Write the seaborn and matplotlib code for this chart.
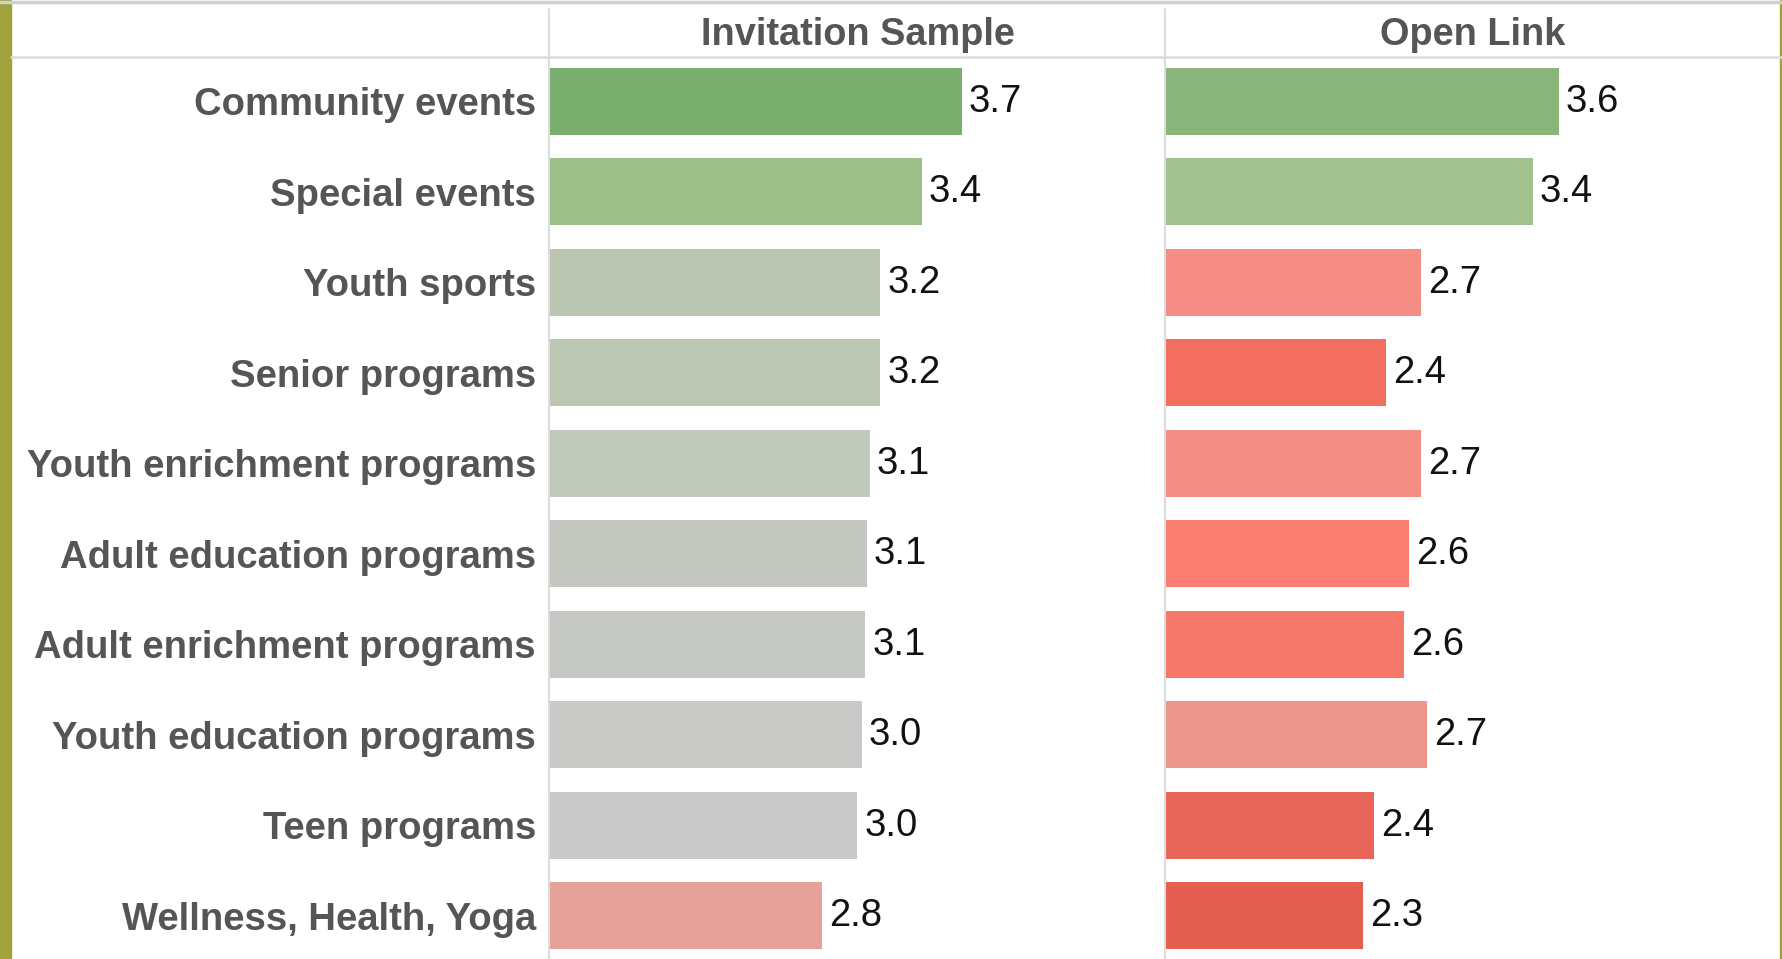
# ---------------------------------------------------------------------------------------------------------------------------
# Import Required Modules
# ---------------------------------------------------------------------------------------------------------------------------

import matplotlib
matplotlib.use("Agg")

import matplotlib.pyplot as plt

import seaborn as sns


# ---------------------------------------------------------------------------------------------------------------------------
# Data
# ---------------------------------------------------------------------------------------------------------------------------

programs = [
    "Community events",
    "Special events",
    "Youth sports",
    "Senior programs",
    "Youth enrichment programs",
    "Adult education programs",
    "Adult enrichment programs",
    "Youth education programs",
    "Teen programs",
    "Wellness, Health, Yoga",
]

invitation_scores = [3.69, 3.43, 3.16, 3.16, 3.09, 3.07, 3.06, 3.04, 3.01, 2.78]

open_link_scores = [3.57, 3.40, 2.67, 2.44, 2.67, 2.59, 2.56, 2.71, 2.36, 2.29]

panel_titles = ["Invitation Sample", "Open Link"]


# bar colours

invitation_colors = ["#7aae6e", "#9cc08a", "#bac6b2", "#bbc7b3", "#c1c9bd",
                     "#c4c8c0", "#c6c8c3", "#c9cac7", "#cacaca", "#e6a29a"]

open_link_colors = ["#8ab57a", "#a1c28f", "#f58d84", "#f26f60", "#f48d83",
                    "#f97d70", "#f6786b", "#ec958a", "#e8655a", "#e45e4f"]


# ---------------------------------------------------------------------------------------------------------------------------
# Figure setup
# ---------------------------------------------------------------------------------------------------------------------------

sns.set_style("white")

plt.rcParams["font.family"] = ["Liberation Sans", "DejaVu Sans"]

W, H = 1783, 959

fig = plt.figure(figsize=(W / 100, H / 100), dpi=100)

top = 1 - 57 / H

ax_left = fig.add_axes([550 / W, 0, 615 / W, top])
ax_right = fig.add_axes([1166 / W, 0, 614 / W, top])


# ---------------------------------------------------------------------------------------------------------------------------
# Function: [ Draw one panel ]
# ---------------------------------------------------------------------------------------------------------------------------

def draw_panel(ax, scores, colors, title, show_labels):

    sns.barplot(x=scores, y=programs, hue=programs, palette=colors,
                orient="h", width=0.74, saturation=1, legend=False, ax=ax,
                edgecolor="none")

    ax.set_xlim(1, 5.02)
    ax.set_ylim(len(programs) - 0.52, -0.49)

    for i, v in enumerate(scores):

        ax.annotate(f"{v:.1f}", xy=(v, i), xytext=(5, -0.5), textcoords="offset points",
                    ha="left", va="center", fontsize=27.5, color="#111111")

    ax.set_xticks([])
    ax.set_xlabel("")
    ax.set_ylabel("")

    if show_labels:
        ax.tick_params(axis="y", length=0, pad=10)
        for lbl in ax.get_yticklabels():
            lbl.set_fontsize(27.5)
            lbl.set_fontweight("bold")
            lbl.set_color("#555555")
    else:
        ax.set_yticks([])

    for s in ax.spines.values():
        s.set_visible(False)

    ax.text(0.5, 1.024, title, transform=ax.transAxes, ha="center", va="center",
            fontsize=27.3, fontweight="bold", color="#555555")


draw_panel(ax_left, invitation_scores, invitation_colors, panel_titles[0], True)
draw_panel(ax_right, open_link_scores, open_link_colors, panel_titles[1], False)


# ---------------------------------------------------------------------------------------------------------------------------
# Frame: dividers, header rule, olive edges
# ---------------------------------------------------------------------------------------------------------------------------

grid_col = "#dcdcdc"

fig.add_artist(plt.Line2D([0, 1], [1 - 1.5 / H, 1 - 1.5 / H], color="#d0d0d0", lw=2.5))
fig.add_artist(plt.Line2D([11 / W, 1], [top, top], color=grid_col, lw=1.8))

for xpix in (549, 1165):
    fig.add_artist(plt.Line2D([xpix / W, xpix / W], [0, 1 - 9 / H], color=grid_col, lw=1.5))

fig.add_artist(plt.Rectangle((0, 0), 11 / W, 1, color="#a0a23c", transform=fig.transFigure))
fig.add_artist(plt.Rectangle((1 - 3 / W, 0), 3 / W, 1, color="#a0a23c", transform=fig.transFigure))


plt.savefig("out.png", dpi=100)
